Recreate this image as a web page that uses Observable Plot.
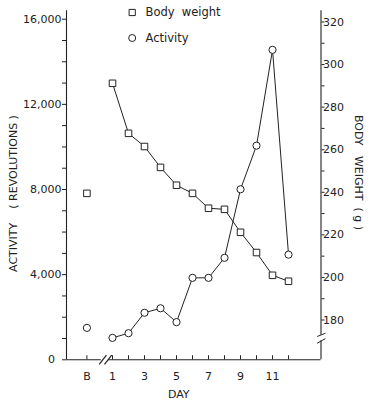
<!DOCTYPE html>
<html>
<head>
<meta charset="utf-8">
<script src="https://cdn.jsdelivr.net/npm/d3@7"></script>
<script src="https://cdn.jsdelivr.net/npm/@observablehq/plot@0.6"></script>
<style>
  html, body { margin: 0; padding: 0; background: #fff; }
  #chart svg { display: block; }
</style>
</head>
<body>
<div id="chart"></div>
<script>
// ---- data ----
const dayLabels = ["B", 1, 2, 3, 4, 5, 6, 7, 8, 9, 10, 11, 12];
const bodyWeight = [239.5, 291.2, 267.7, 261.5, 251.7, 243.3, 239.5, 232.5, 232.0, 221.2, 211.7, 201.0, 198.2];
const activity = [1500, 1030, 1250, 2210, 2420, 1770, 3850, 3850, 4790, 8010, 10060, 14560, 4940];
const xTickLabels = ["B", 1, 3, 5, 7, 9, 11];
const activityTicks = [0, 4000, 8000, 12000, 16000];
const weightTicks = [180, 200, 220, 240, 260, 280, 300, 320];
const legendItems = [{label: "Body  weight", symbol: "square"}, {label: "Activity", symbol: "circle"}];
const xBreaks = [0.17, 0.5];

// B sits to the left of the axis break
const B_POS = -0.6;
const pos = d => d === "B" ? B_POS : d;
// weight (g) expressed in activity units for the shared vertical scale
const W0 = 161.31, WK = 100;
const w2a = w => (w - W0) * WK;

const rows = dayLabels.map((d, i) => ({day: d, x: pos(d), w: w2a(bodyWeight[i]), a: activity[i]}));
const series = rows.filter(r => r.day !== "B");

const font = "DejaVu Sans, sans-serif";
const ink = "#222";
const xDom = [-1.875, 14.03];
const yTop = 16400;

const minorA = d3.range(0, 16001, 1000);
const minorW = d3.range(180, 321, 10);
const xTicksAll = dayLabels.map(pos);

const legendMarks = legendItems.flatMap((item, i) => [
  Plot.dot([item], {frameAnchor: "top-left", dx: 65.7, dy: -6.7 + i * 25.5, symbol: item.symbol, r: 3.5, stroke: ink, fill: "#fff", strokeWidth: 1}),
  Plot.text([item], {frameAnchor: "top-left", dx: 79, dy: -6.5 + i * 25.5, textAnchor: "start", lineAnchor: "middle", text: "label", fontSize: 11.5, fill: ink})
]);

const xBreakRows = xBreaks.map(b => ({x1: b, x2: b + 0.45, y1: -220, y2: 220}));

const chart = Plot.plot({
  width: 371,
  height: 400,
  marginLeft: 66,
  marginRight: 50.5,
  marginTop: 18.7,
  marginBottom: 40.7,
  style: {fontFamily: font, fontSize: "11px", color: ink, background: "#fff"},
  x: {domain: xDom, axis: null},
  y: {domain: [0, 16000], axis: null},
  marks: [
    // axis lines (bottom axis broken between B and day 1)
    Plot.ruleX([xDom[0]], {y1: 0, y2: yTop, stroke: ink, strokeWidth: 1.1}),
    Plot.ruleX([xDom[1]], {y1: 0, y2: yTop, stroke: ink, strokeWidth: 1.1}),
    Plot.ruleY([0], {x1: xDom[0], x2: 0.3, stroke: ink, strokeWidth: 1.1}),
    Plot.ruleY([0], {x1: 0.75, x2: xDom[1], stroke: ink, strokeWidth: 1.1}),
    // gap for right-axis break
    Plot.ruleX([xDom[1]], {y1: w2a(170.2), y2: w2a(172.9), stroke: "#fff", strokeWidth: 3}),
    // break marks on x axis
    Plot.link(xBreakRows, {x1: "x1", x2: "x2", y1: "y1", y2: "y2", stroke: ink, strokeWidth: 1.2}),
    // break marks on right axis
    Plot.link([[172.25, 173.8], [169.1, 171.3]], {x1: () => 13.79, x2: () => 14.31, y1: d => w2a(d[0]), y2: d => w2a(d[1]), stroke: ink, strokeWidth: 1}),
    // x axis ticks (pointing up)
    Plot.ruleX(xTicksAll, {x: d => d, y1: 0, y2: 190, stroke: ink, strokeWidth: 1}),
    Plot.text(xTickLabels, {x: d => pos(d), y: 0, dy: 16.7, text: d => String(d), fontSize: 11, fill: ink}),
    // left axis
    Plot.axisY(minorA, {anchor: "left", tickSize: 4, tickFormat: () => "", label: null, stroke: ink}),
    Plot.text(activityTicks, {x: xDom[0], y: d => d, textAnchor: "end", text: d => d3.format(",")(d), fontSize: 11, fill: ink,
      render: (index, scales, values, dims, ctx, next) => {
        const g = next(index, scales, values, dims, ctx);
        d3.select(g).selectAll("text").attr("dx", i => activityTicks[i] === 0 ? -11.5 : -5);
        return g;
      }}),
    // right axis
    Plot.axisY(minorW.map(w2a), {anchor: "right", tickSize: 3, tickFormat: () => "", label: null, stroke: ink}),
    Plot.text(weightTicks, {x: xDom[1], y: d => w2a(d), dx: 2, textAnchor: "start", text: d => String(d), fontSize: 11, fill: ink}),
    // axis titles
    Plot.text(["ACTIVITY    ( REVOLUTIONS )"], {frameAnchor: "left", textAnchor: "middle", lineAnchor: "middle", dx: -52.7, dy: 4, rotate: -90, fontSize: 11, fill: ink, text: d => d}),
    Plot.text(["BODY   WEIGHT  ( g )"], {frameAnchor: "right", textAnchor: "middle", lineAnchor: "middle", dx: 37.5, dy: -17, rotate: 90, fontSize: 11, fill: ink, text: d => d}),
    Plot.text(["DAY"], {frameAnchor: "bottom", textAnchor: "middle", lineAnchor: "middle", dx: -15, dy: 35, fontSize: 11, fill: ink, text: d => d}),
    // lines
    Plot.line(series, {x: "x", y: "w", stroke: ink, strokeWidth: 1}),
    Plot.line(series, {x: "x", y: "a", stroke: ink, strokeWidth: 1}),
    // points
    Plot.dot(rows, {x: "x", y: "w", symbol: "square", r: 3.7, stroke: ink, fill: "#fff", strokeWidth: 1}),
    Plot.dot(rows, {x: "x", y: "a", symbol: "circle", r: 3.6, stroke: ink, fill: "#fff", strokeWidth: 1}),
    // legend
    ...legendMarks
  ]
});
document.getElementById("chart").appendChild(chart);
</script>
</body>
</html>
